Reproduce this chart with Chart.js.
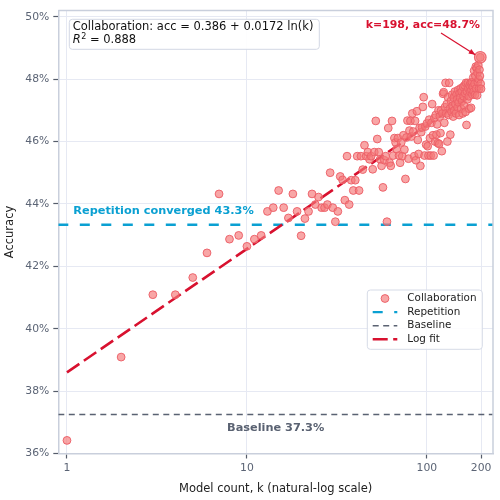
<!DOCTYPE html>
<html>
<head>
<meta charset="utf-8">
<script src="https://cdn.jsdelivr.net/npm/chart.js@4.4.1/dist/chart.umd.min.js"></script>
<style>
  html, body { margin: 0; padding: 0; background: #fff; }
  #wrap { width: 500px; height: 500px; }
</style>
</head>
<body>
<div id="wrap"><canvas id="chart" width="500" height="500"></canvas></div>
<script>
// ---------- DATA ----------
const modelCounts = [
  1, 2, 3, 4, 5, 6, 7, 8, 9, 10, 11, 12, 13, 14, 15, 16, 17, 18, 19, 20,
  21, 22, 23, 24, 25, 26, 27, 28, 29, 30, 31, 32, 33, 34, 35, 36, 37, 38, 39, 40,
  41, 42, 43, 44, 45, 46, 47, 48, 49, 50, 51, 52, 53, 54, 55, 56, 57, 58, 59, 60,
  61, 62, 63, 64, 65, 66, 67, 68, 69, 70, 71, 72, 73, 74, 75, 76, 77, 78, 79, 80,
  81, 82, 83, 84, 85, 86, 87, 88, 89, 90, 91, 92, 93, 94, 95, 96, 97, 98, 99, 100,
  101, 102, 103, 104, 105, 106, 107, 108, 109, 110, 111, 112, 113, 114, 115, 116, 117, 118, 119, 120,
  121, 122, 123, 124, 125, 126, 127, 128, 129, 130, 131, 132, 133, 134, 135, 136, 137, 138, 139, 140,
  141, 142, 143, 144, 145, 146, 147, 148, 149, 150, 151, 152, 153, 154, 155, 156, 157, 158, 159, 160,
  161, 162, 163, 164, 165, 166, 167, 168, 169, 170, 171, 172, 173, 174, 175, 176, 177, 178, 179, 180,
  181, 182, 183, 184, 185, 186, 187, 188, 189, 190, 191, 192, 193, 194, 195, 196, 197, 198, 199, 200
];
// accuracy in %, one per model count
const collabAcc = [
  36.42, 39.09, 41.09, 41.09, 41.64, 42.43, 44.32, 42.87, 42.99, 42.64,
  42.87, 42.99, 43.76, 43.88, 44.43, 43.88, 43.55, 44.32, 43.76, 42.98,
  43.53, 43.76, 44.32, 43.98, 44.22, 43.88, 43.88, 43.98, 45.00, 43.88,
  43.43, 43.76, 44.88, 44.77, 44.12, 45.53, 43.98, 44.76, 44.43, 44.76,
  45.53, 44.43, 45.53, 45.10, 45.88, 45.53, 45.66, 45.43, 45.53, 45.11,
  45.66, 46.66, 46.08, 45.66, 45.43, 45.22, 44.53, 45.40, 45.53, 43.43,
  46.43, 45.32, 45.22, 46.66, 45.55, 46.11, 45.97, 45.75, 46.11, 45.55,
  45.32, 45.97, 45.53, 46.20, 45.74, 44.80, 46.13, 46.67, 45.45, 46.35,
  46.66, 46.16, 46.90, 46.32, 45.53, 46.66, 45.40, 46.97, 46.05, 45.60,
  46.43, 45.22, 46.30, 46.45, 47.11, 47.42, 45.55, 46.48, 45.90, 46.58,
  45.85, 45.55, 46.70, 46.11, 45.55, 46.60, 47.20, 46.20, 45.55, 46.75,
  46.00, 46.85, 46.22, 46.55, 45.95, 47.00, 45.92, 46.80, 46.27, 47.00,
  45.69, 46.90, 47.53, 47.58, 46.60, 47.10, 47.88, 46.90, 47.20, 46.00,
  47.42, 46.85, 47.88, 47.05, 46.22, 47.30, 46.95, 47.50, 47.15, 46.80,
  47.40, 47.00, 47.60, 47.20, 46.90, 47.50, 47.35, 47.10, 47.65, 47.25,
  46.85, 47.55, 47.40, 47.70, 47.05, 47.60, 47.30, 46.90, 47.75, 47.45,
  47.15, 47.80, 47.55, 46.95, 47.88, 46.53, 47.60, 47.35, 47.88, 47.70,
  47.45, 47.05, 47.80, 47.60, 47.88, 47.08, 47.65, 47.90, 47.50, 47.75,
  48.05, 47.60, 48.27, 47.85, 47.50, 48.10, 48.40, 47.70, 48.35, 47.48,
  48.20, 47.90, 48.45, 48.00, 47.70, 48.30, 48.10, 48.70, 47.85, 47.69
];
const fitK = [1, 200];
const fitAcc = [38.6, 47.71];          // log-fit end points
const repetitionAcc = 43.33;
const baselineAcc = 37.25;
const bestK = 198;
const bestAcc = 48.7;
const xTicks = [1, 10, 100, 200];
const xTickLabels = ["1", "10", "100", "200"];
const yTicks = [36, 38, 40, 42, 44, 46, 48, 50];

// ---------- STYLE ----------
const FONT = "'DejaVu Sans', sans-serif";
const RED = "#d8112f";
const CYAN = "#0aa0d2";
const GRAY = "#5a6272";
const PT_FILL = "rgba(245,120,120,0.66)";
const PT_EDGE = "rgba(236,96,104,0.95)";
const X_MIN = 0.895, X_MAX = 233;

const scatterPts = modelCounts.map((k, i) => ({ x: k, y: collabAcc[i] }));
const spanLine = v => [{ x: X_MIN, y: v }, { x: X_MAX, y: v }];

const decor = {
    id: "decor",
    afterDraw(chart) {
        const { ctx, chartArea: a, scales } = chart;
        const xs = scales.x, ys = scales.y;
        ctx.save();

        // frame top/right
        ctx.strokeStyle = "#c9cfdc";
        ctx.lineWidth = 1.5;
        ctx.beginPath();
        ctx.moveTo(a.left, a.top); ctx.lineTo(a.right, a.top); ctx.lineTo(a.right, a.bottom);
        ctx.stroke();

        // axis titles
        ctx.fillStyle = "#222";
        ctx.font = `11.5px ${FONT}`;
        ctx.textAlign = "center";
        ctx.textBaseline = "middle";
        ctx.fillText("Model count, k (natural-log scale)", (a.left + a.right) / 2, 489.5);
        ctx.save();
        ctx.translate(10, (a.top + a.bottom) / 2);
        ctx.rotate(-Math.PI / 2);
        ctx.fillText("Accuracy", 0, 0);
        ctx.restore();

        // reference labels
        ctx.font = `bold 11.3px ${FONT}`;
        ctx.fillStyle = CYAN;
        ctx.textAlign = "left";
        ctx.fillText("Repetition converged 43.3%", 73.3, ys.getPixelForValue(repetitionAcc) - 13.5);
        ctx.fillStyle = GRAY;
        ctx.textAlign = "center";
        ctx.fillText("Baseline 37.3%", (a.left + a.right) / 2, ys.getPixelForValue(baselineAcc) + 14);

        // best point annotation
        const bx = xs.getPixelForValue(bestK), by = ys.getPixelForValue(bestAcc);
        ctx.font = `bold 10.9px ${FONT}`;
        ctx.fillStyle = RED;
        ctx.textAlign = "right";
        ctx.fillText("k=198, acc=48.7%", 480, 25.5);
        const sx = 441, sy = 33, ex = bx - 5, ey = by - 2.5;
        ctx.strokeStyle = RED;
        ctx.lineWidth = 1.2;
        ctx.beginPath(); ctx.moveTo(sx, sy); ctx.lineTo(ex, ey); ctx.stroke();
        const ang = Math.atan2(ey - sy, ex - sx);
        ctx.beginPath();
        ctx.moveTo(ex, ey);
        ctx.lineTo(ex - 7 * Math.cos(ang - 0.4), ey - 7 * Math.sin(ang - 0.4));
        ctx.lineTo(ex - 7 * Math.cos(ang + 0.4), ey - 7 * Math.sin(ang + 0.4));
        ctx.closePath();
        ctx.fillStyle = RED;
        ctx.fill();

        // fit text box
        roundRect(ctx, 69.3, 19.3, 250, 30, 3);
        ctx.fillStyle = "rgba(255,255,255,0.9)";
        ctx.fill();
        ctx.strokeStyle = "#d3d8e4";
        ctx.lineWidth = 1;
        ctx.stroke();
        ctx.fillStyle = "#111";
        ctx.textAlign = "left";
        ctx.font = `11.5px ${FONT}`;
        ctx.fillText("Collaboration: acc = 0.386 + 0.0172 ln(k)", 72.7, 27);
        ctx.font = `italic 11.5px ${FONT}`;
        ctx.fillText("R", 72.7, 40.5);
        let w = ctx.measureText("R").width;
        ctx.font = `8px ${FONT}`;
        ctx.fillText("2", 72.7 + w + 0.5, 36.5);
        w += ctx.measureText("2").width + 0.5;
        ctx.font = `11.5px ${FONT}`;
        ctx.fillText(" = 0.888", 72.7 + w, 40.5);

        // legend
        roundRect(ctx, 367.3, 290, 115, 59.3, 3);
        ctx.fillStyle = "rgba(255,255,255,0.85)";
        ctx.fill();
        ctx.strokeStyle = "#d6dbe7";
        ctx.stroke();
        const rows = [
            { label: "Collaboration", kind: "pt" },
            { label: "Repetition", color: CYAN, dash: [10, 11.5], lw: 2.4 },
            { label: "Baseline", color: GRAY, dash: [6, 4.5], lw: 1.6 },
            { label: "Log fit", color: RED, dash: [15, 5.5], lw: 2.6 }
        ];
        ctx.font = `10.4px ${FONT}`;
        rows.forEach((r, i) => {
            const ry = 298.5 + i * 13.6;
            if (r.kind === "pt") {
                ctx.beginPath();
                ctx.arc(385, ry, 3.9, 0, Math.PI * 2);
                ctx.fillStyle = PT_FILL; ctx.fill();
                ctx.strokeStyle = PT_EDGE; ctx.lineWidth = 1; ctx.stroke();
            } else {
                ctx.setLineDash(r.dash);
                ctx.strokeStyle = r.color; ctx.lineWidth = r.lw;
                ctx.beginPath(); ctx.moveTo(372.7, ry); ctx.lineTo(397.3, ry); ctx.stroke();
                ctx.setLineDash([]);
            }
            ctx.fillStyle = "#222";
            ctx.fillText(r.label, 407.3, ry);
        });
        ctx.restore();
    }
};

function roundRect(ctx, x, y, w, h, r) {
    ctx.beginPath();
    ctx.moveTo(x + r, y);
    ctx.lineTo(x + w - r, y); ctx.quadraticCurveTo(x + w, y, x + w, y + r);
    ctx.lineTo(x + w, y + h - r); ctx.quadraticCurveTo(x + w, y + h, x + w - r, y + h);
    ctx.lineTo(x + r, y + h); ctx.quadraticCurveTo(x, y + h, x, y + h - r);
    ctx.lineTo(x, y + r); ctx.quadraticCurveTo(x, y, x + r, y);
    ctx.closePath();
}

new Chart(document.getElementById("chart"), {
    type: "scatter",
    data: {
        datasets: [
            {
                label: "Best",
                data: [{ x: bestK, y: bestAcc }],
                backgroundColor: PT_FILL,
                borderColor: PT_EDGE,
                borderWidth: 1.2,
                pointRadius: 5.8,
                order: 0
            },
            {
                label: "Collaboration",
                data: scatterPts,
                backgroundColor: PT_FILL,
                borderColor: PT_EDGE,
                borderWidth: 1,
                pointRadius: 3.9,
                order: 1
            },
            {
                label: "Log fit",
                type: "line",
                data: fitK.map((k, i) => ({ x: k, y: fitAcc[i] })),
                borderColor: RED,
                borderWidth: 2.6,
                borderDash: [15, 5.5],
                pointRadius: 0,
                fill: false,
                order: 2
            },
            {
                label: "Repetition",
                type: "line",
                data: spanLine(repetitionAcc),
                borderColor: CYAN,
                borderWidth: 2.4,
                borderDash: [10, 11.5],
                pointRadius: 0,
                order: 3
            },
            {
                label: "Baseline",
                type: "line",
                data: spanLine(baselineAcc),
                borderColor: GRAY,
                borderWidth: 1.6,
                borderDash: [6, 4.5],
                pointRadius: 0,
                order: 4
            }
        ]
    },
    options: {
        responsive: false,
        animation: false,
        layout: { padding: { top: 4, right: 5.5, left: 0, bottom: 0 } },
        plugins: { legend: { display: false }, tooltip: { enabled: false } },
        scales: {
            x: {
                type: "logarithmic",
                min: X_MIN,
                max: X_MAX,
                afterBuildTicks: s => { s.ticks = xTicks.map(v => ({ value: v })); },
                afterFit: s => { s.height = 46.5; },
                ticks: {
                    callback: (v, i) => xTickLabels[i],
                    color: "#5b6475",
                    font: { family: FONT, size: 10.8 },
                    padding: 3,
                    maxRotation: 0,
                    autoSkip: false
                },
                grid: { color: "#e6e9f3", lineWidth: 1, tickLength: 5, tickColor: "#555c6a", tickWidth: 1.2 },
                border: { color: "#c9cfdc", width: 1.5 }
            },
            y: {
                min: 36,
                max: 50.2,
                afterBuildTicks: s => { s.ticks = yTicks.map(v => ({ value: v })); },
                afterFit: s => { s.width = 58.3; },
                ticks: {
                    callback: v => v + "%",
                    color: "#5b6475",
                    font: { family: FONT, size: 10.8 },
                    padding: 4
                },
                grid: { color: "#e6e9f3", lineWidth: 1, tickLength: 5, tickColor: "#555c6a", tickWidth: 1.2 },
                border: { color: "#c9cfdc", width: 1.5 }
            }
        }
    },
    plugins: [decor]
});
</script>
</body>
</html>
